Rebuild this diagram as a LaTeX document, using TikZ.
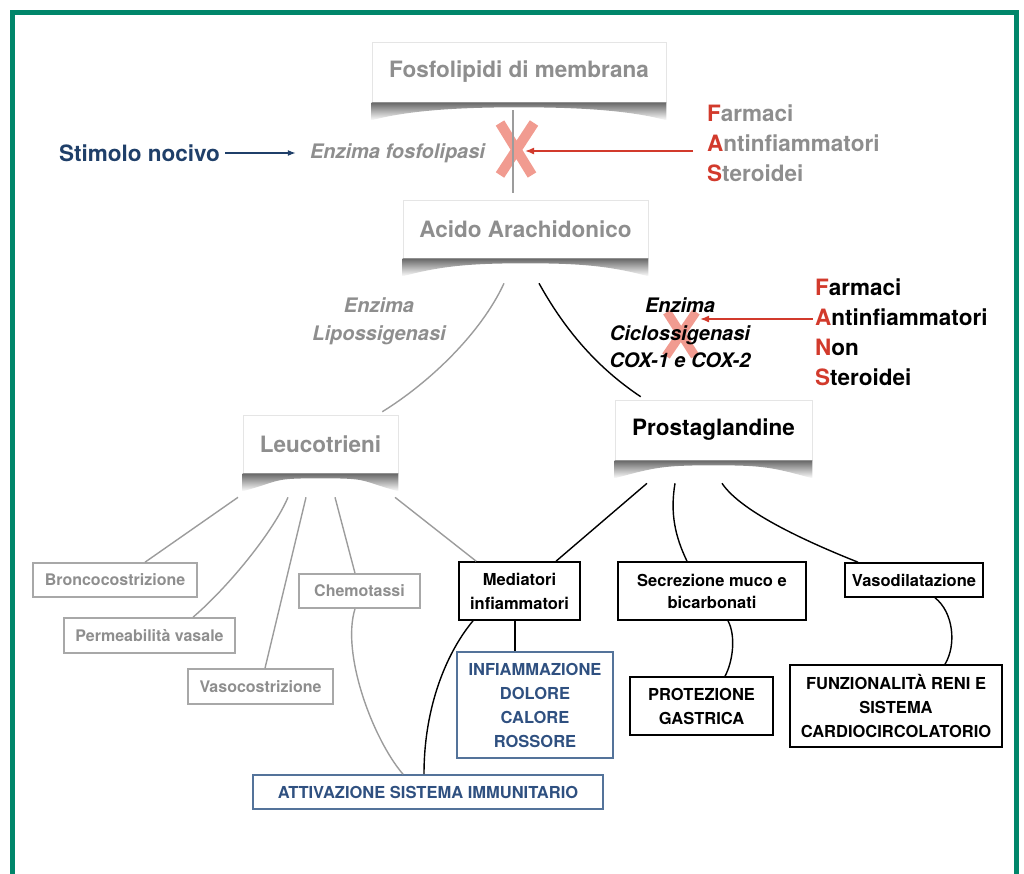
\documentclass[tikz,border=0pt]{standalone}
\usepackage{fontspec}
\setmainfont{TeX Gyre Heros}
\usetikzlibrary{arrows.meta,calc}
\definecolor{framegreen}{HTML}{00866A}
\definecolor{txtgray}{HTML}{8E8E8E}
\definecolor{boxgray}{HTML}{A8A8A8}
\definecolor{linegray}{HTML}{9C9C9C}
\definecolor{navy}{HTML}{1F3F69}
\definecolor{bluetx}{HTML}{2F5080}
\definecolor{bluebd}{HTML}{54739A}
\definecolor{fred}{HTML}{D23A2C}
\definecolor{xred}{HTML}{EE8A7C}
\tikzset{
  hdr/.style={draw=black!10, line width=0.6pt, fill=white, inner sep=0pt,
    font=\bfseries\fontsize{22.5}{27}\selectfont},
  lbl/.style={inner sep=0pt, font=\bfseries\fontsize{22.5}{30}\selectfont},
  enz/.style={inner sep=0pt, align=center, font=\bfseries\itshape\fontsize{20}{27.5}\selectfont},
  gbox/.style={draw=boxgray, line width=1.6pt, inner sep=0pt, text=txtgray,
    font=\bfseries\fontsize{16}{24}\selectfont},
  kbox/.style={draw=black, line width=1.6pt, inner sep=0pt, align=center,
    font=\bfseries\fontsize{16.5}{24}\selectfont},
  ubox/.style={draw=bluebd, line width=1.6pt, inner sep=0pt, align=center, text=bluetx,
    font=\bfseries\fontsize{16.5}{24}\selectfont},
  gline/.style={draw=linegray, line width=1.4pt},
  kline/.style={draw=black, line width=1.4pt},
  barrow/.style={draw=navy, line width=1.4pt, -{Latex[length=8pt,width=6pt]}},
  rarrow/.style={draw=fred, line width=1.6pt, -{Latex[length=9pt,width=7pt]}},
  xmark/.style={draw=xred, line width=10pt, opacity=0.85}
}
\begin{document}
\begin{tikzpicture}[x=1pt,y=-1pt]
% canvas in pixels, y pointing down
\useasboundingbox (0,0) rectangle (1024,873);
\def\liftshadow#1{\shade[top color=black!60,bottom color=white]
 (#1.south west) -- (#1.south east) -- ++(0,18)
 .. controls +(-40,-11) and +(50,0) .. ($(#1.south)+(0,5)$)
 .. controls +(-50,0) and +(40,-11) .. ($(#1.south west)+(0,18)$) -- cycle;}
\draw[framegreen, line width=5pt] (12.5,12.5) rectangle (1016,900);
\coordinate (fosx) at (516,149);
\coordinate (coxx) at (681,334);
\coordinate (fosin) at (525,151);
\coordinate (coxin) at (700,319);
\draw[xmark] (fosx) ++(-16,-26) -- ++(32,52) (fosx) ++(18,-26) -- ++(-34,52);
\draw[xmark, line width=9pt] (coxx) ++(-14,-22) -- ++(28,44) (coxx) ++(15,-22) -- ++(-30,44);
\node[hdr, text=txtgray, minimum width=294, minimum height=60] (fosfo) at (519,72) {Fosfolipidi di membrana};
\node[hdr, text=txtgray, minimum width=245, minimum height=58] (acido) at (525.5,229) {Acido Arachidonico};
\node[hdr, text=txtgray, minimum width=155, minimum height=58] (leuco) at (320.5,444) {Leucotrieni};
\node[hdr, minimum width=197, minimum height=60] (prosta) at (713.5,430) {Prostaglandine};
\liftshadow{fosfo}
\liftshadow{acido}
\liftshadow{leuco}
\liftshadow{prosta}
\node[lbl, text=navy] (stim) at (139.5,153) {Stimolo nocivo};
\node[enz, text=txtgray] (enzfos) at (397.5,153) {Enzima fosfolipasi};
\node[lbl, text=txtgray, anchor=west, align=left] (fas) at (707,143)
 {{\color{fred}F}armaci\\{\color{fred}A}ntinfiammatori\\{\color{fred}S}teroidei};
\node[enz, text=txtgray, font=\bfseries\itshape\fontsize{20}{28}\selectfont] (lipo) at (379,321) {Enzima\\Lipossigenasi};
\node[enz] (cox) at (680,333) {Enzima\\Ciclossigenasi\\COX-1 e COX-2};
\node[lbl, anchor=west, align=left] (fans) at (815,332)
 {{\color{fred}F}armaci\\{\color{fred}A}ntinfiammatori\\{\color{fred}N}on\\{\color{fred}S}teroidei};
\node[gbox, minimum width=164, minimum height=34] (bronco) at (115,580) {Broncocostrizione};
\node[gbox, minimum width=171, minimum height=35] (perme) at (149.5,635.5) {Permeabilità vasale};
\node[gbox, minimum width=145, minimum height=35] (vasoc) at (260.5,686.5) {Vasocostrizione};
\node[gbox, minimum width=121, minimum height=34] (chemo) at (359.5,591) {Chemotassi};
\node[kbox, minimum width=121, minimum height=58] (media) at (519.5,591) {Mediatori\\infiammatori};
\node[kbox, minimum width=188, minimum height=58, font=\bfseries\fontsize{16.5}{22}\selectfont] (secre) at (712,591) {Secrezione muco e\\bicarbonati};
\node[kbox, minimum width=138, minimum height=34] (vasod) at (914,580) {Vasodilatazione};
\node[kbox, minimum width=143, minimum height=58] (prote) at (701.5,706) {PROTEZIONE\\GASTRICA};
\node[kbox, minimum width=212, minimum height=82] (funz) at (896,706) {FUNZIONALITÀ RENI E\\SISTEMA\\CARDIOCIRCOLATORIO};
\node[ubox, minimum width=156, minimum height=106] (infia) at (535,705) {INFIAMMAZIONE\\DOLORE\\CALORE\\ROSSORE};
\node[ubox, minimum width=350, minimum height=34] (attiv) at (428,792) {ATTIVAZIONE SISTEMA IMMUNITARIO};
% arrows and blocked enzymes
\draw[gline] ($(fosfo.south)+(-6,8)$) -- ($(acido.north)+(-12.5,-7)$);
\draw[barrow, shorten <=5pt, shorten >=14pt] (stim) -- (enzfos);
\draw[rarrow, shorten <=14pt] (fas.west |- fosin) -- (fosin);
\draw[rarrow, shorten <=2pt] (fans.west |- coxin) -- (coxin);
% branches
\draw[gline] ($(acido.south)+(-21.5,25)$) .. controls +(-23,50) and +(47,-29) .. ($(leuco.north east)+(-16,-3)$);
\draw[kline] ($(acido.south)+(13.5,25)$) .. controls +(25,45) and +(-45,-30) .. ($(prosta.north west)+(26,-3)$);
\draw[gline] ($(leuco.south)+(-82.5,24)$) -- ($(bronco.north)+(30,0)$);
\draw[gline] ($(leuco.south)+(-32.5,24)$) .. controls +(-15,35) and +(35,-30) .. ($(perme.north)+(43.5,0)$);
\draw[gline] ($(leuco.south)+(-14.5,24)$) -- ($(vasoc.north)+(4.5,0)$);
\draw[gline] ($(leuco.south)+(14.5,24)$) -- ($(chemo.north)+(-4.5,0)$);
\draw[gline] ($(leuco.south)+(74.5,24)$) -- ($(media.north west)+(18,0)$);
\draw[kline] ($(prosta.south)+(-66.5,23)$) -- ($(media.north)+(36.5,0)$);
\draw[kline] ($(prosta.south)+(-38.5,23)$) .. controls +(-5,30) and +(-12,-25) .. ($(secre.north)+(-25,0)$);
\draw[kline] ($(prosta.south)+(8.5,23)$) .. controls +(20,30) and +(-45,-18) .. ($(vasod.north)+(-56,0)$);
\draw[kline] ($(secre.south)+(16,0)$) .. controls +(8,15) and +(8,-15) .. ($(prote.north)+(23.5,0)$);
\draw[kline] ($(vasod.south)+(21,0)$) .. controls +(18,14) and +(12,-20) .. ($(funz.north)+(49,0)$);
\draw[kline] ($(media.south)+(-4.5,0)$) -- ($(infia.north)+(-20,0)$);
\draw[kline] ($(media.south)+(-46.5,0)$) .. controls +(-25,30) and +(0,-70) .. ($(attiv.north)+(-4,0)$);
\draw[gline] ($(chemo.south)+(-4.5,0)$) .. controls +(-14,45) and +(-30,-35) .. ($(attiv.north)+(-25,0)$);
\end{tikzpicture}
\end{document}
